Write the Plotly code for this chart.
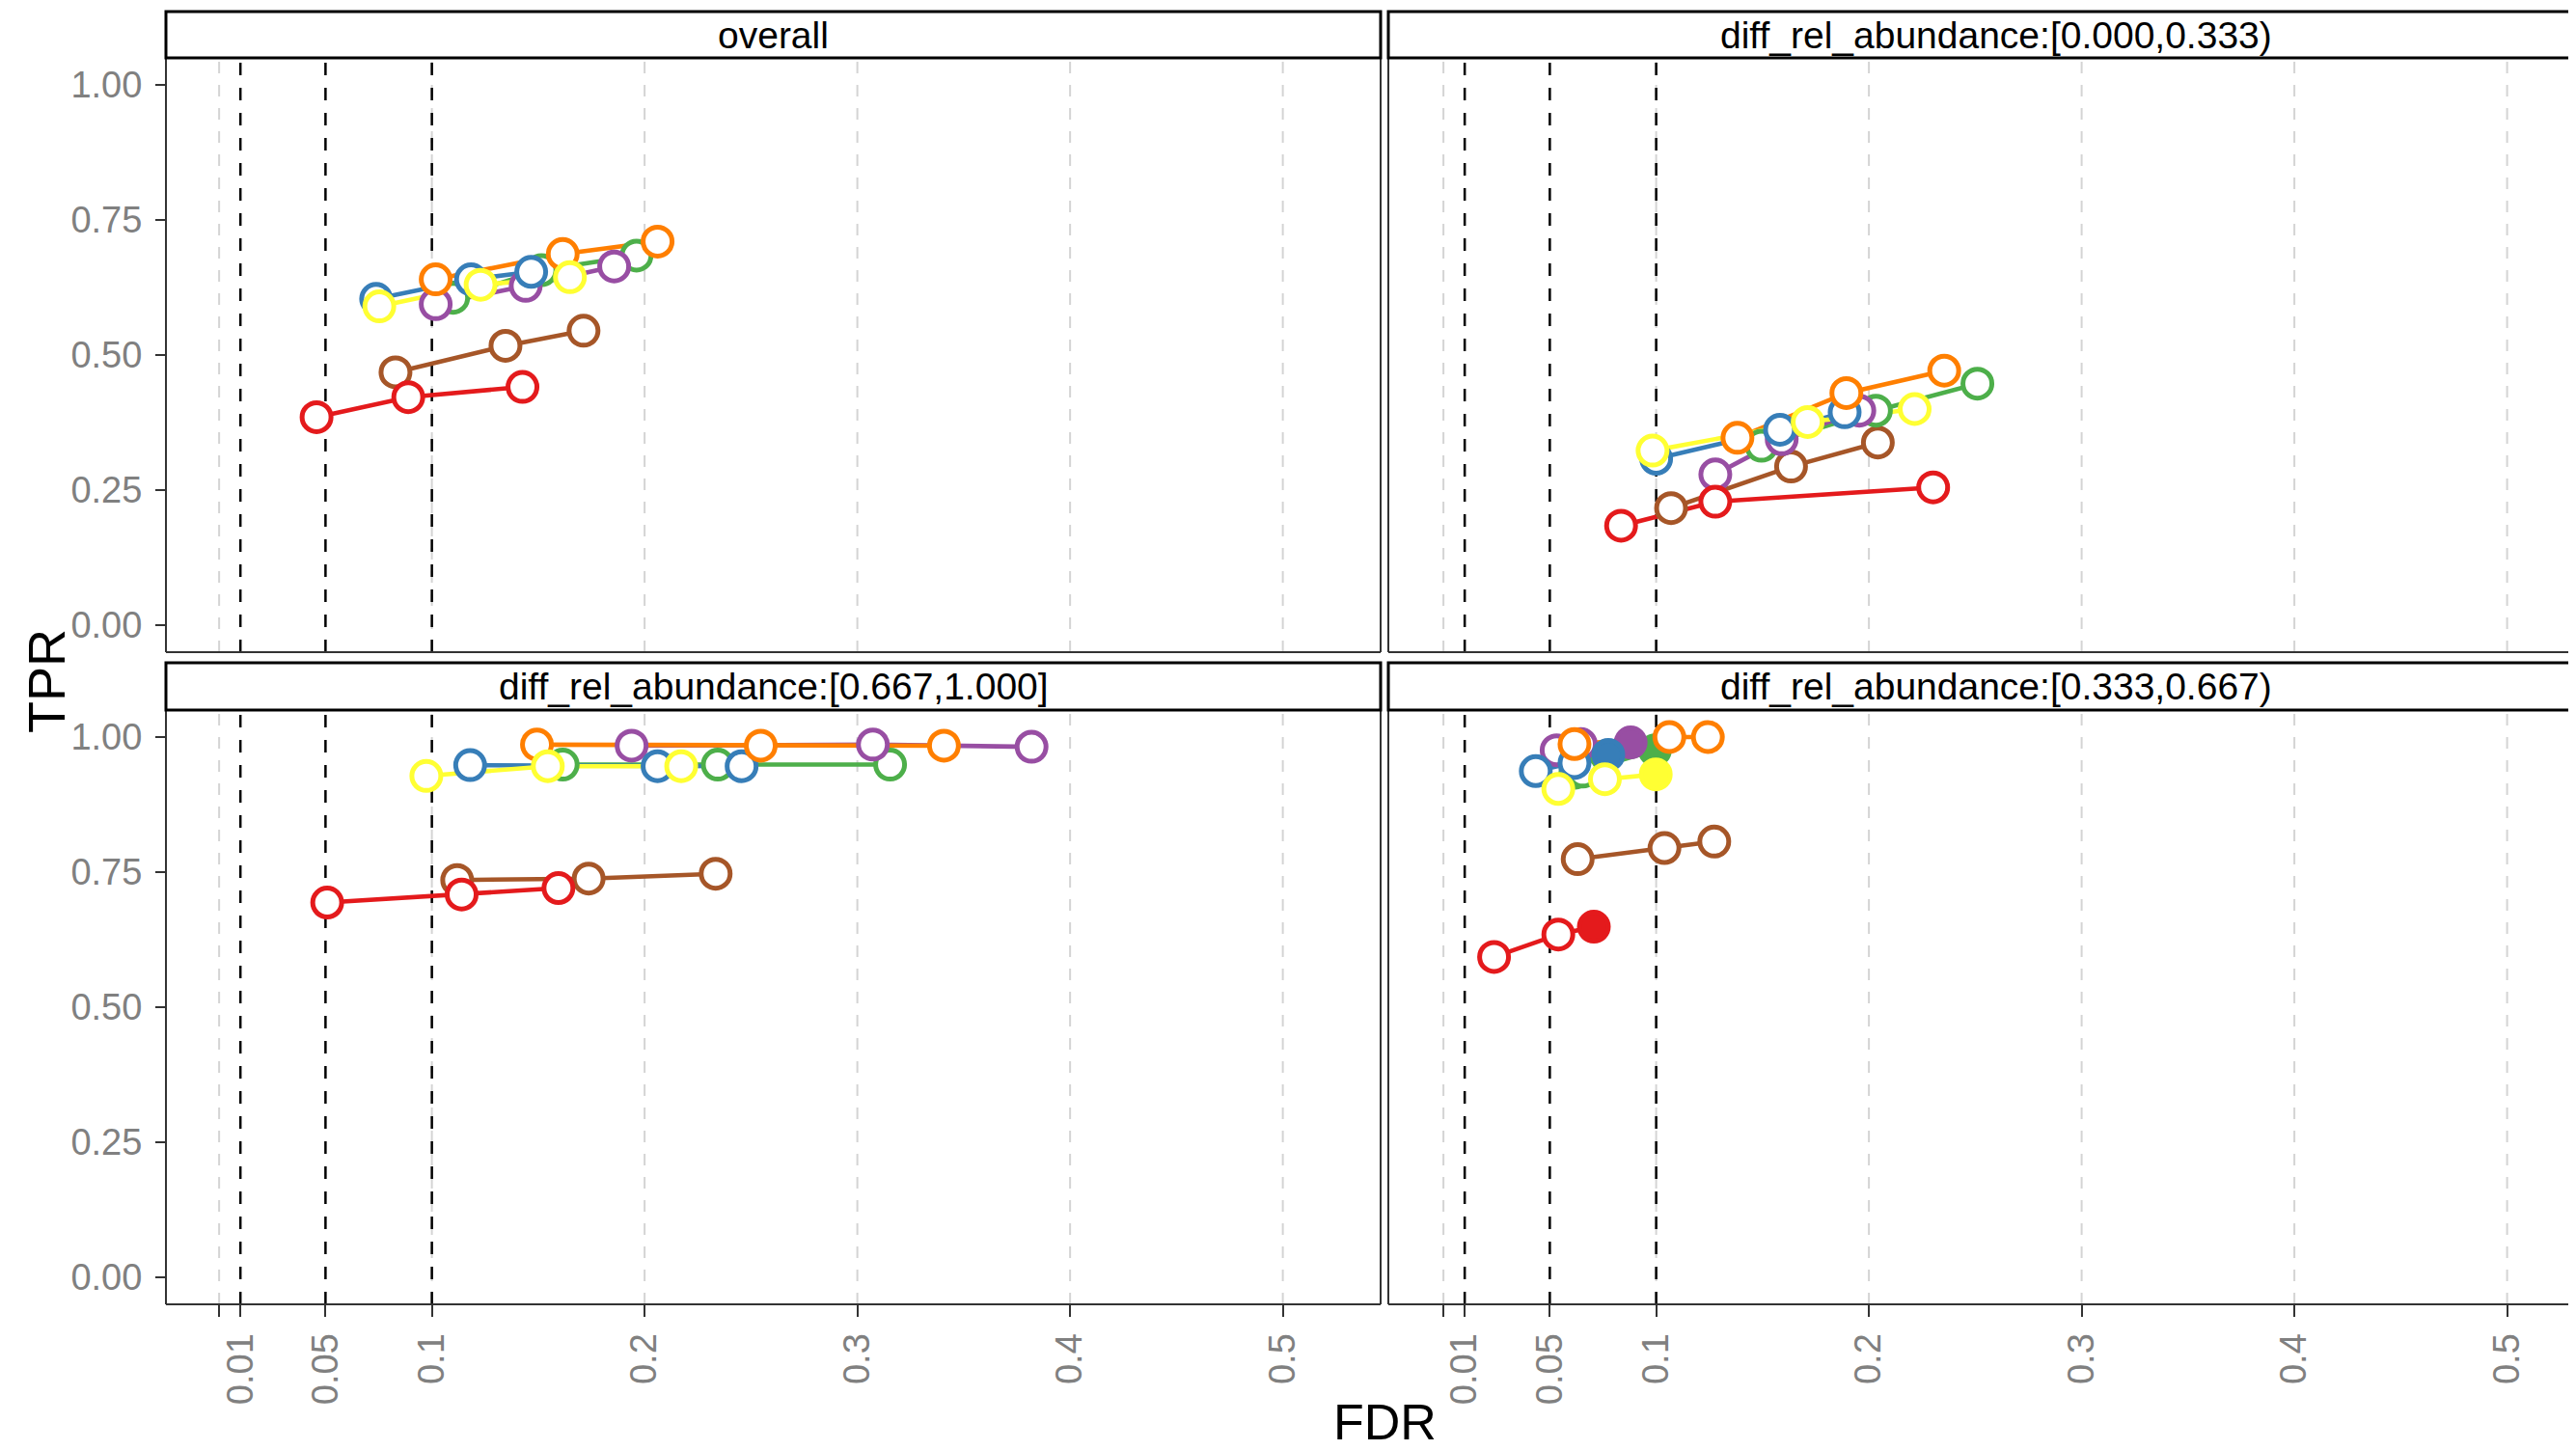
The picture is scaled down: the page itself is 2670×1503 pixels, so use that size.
import plotly.graph_objects as go

# ---------------- data (FDR, TPR) ----------------
METHODS = ["brown", "green", "purple", "blue", "orange", "yellow", "red"]
COLORS = {
    "red": "#E41A1C", "blue": "#377EB8", "green": "#4DAF4A", "purple": "#984EA3",
    "orange": "#FF7F00", "yellow": "#FFFF33", "brown": "#A65628",
}
THRESHOLDS = [0.01, 0.05, 0.1]

OVERALL_FDR = {
    "red": [0.0458, 0.0889, 0.1426], "brown": [0.0829, 0.1346, 0.1713],
    "blue": [0.0738, 0.1184, 0.1467], "green": [0.110, 0.1515, 0.1962],
    "purple": [0.1018, 0.1441, 0.1857], "orange": [0.1018, 0.1615, 0.2061],
    "yellow": [0.0753, 0.1229, 0.1649],
}
OVERALL_TPR = {
    "red": [0.385, 0.422, 0.441], "brown": [0.468, 0.517, 0.545],
    "blue": [0.604, 0.640, 0.654], "green": [0.606, 0.657, 0.684],
    "purple": [0.594, 0.628, 0.664], "orange": [0.640, 0.687, 0.710],
    "yellow": [0.590, 0.630, 0.644],
}

LOW_FDR = {
    "red": [0.0835, 0.1278, 0.2302], "brown": [0.107, 0.1634, 0.2042],
    "blue": [0.100, 0.1582, 0.1886], "green": [0.1495, 0.2033, 0.251],
    "purple": [0.1278, 0.159, 0.1955], "orange": [0.1382, 0.1894, 0.2354],
    "yellow": [0.0983, 0.1712, 0.2215],
}
LOW_TPR = {
    "red": [0.184, 0.2285, 0.255], "brown": [0.2167, 0.2936, 0.338],
    "blue": [0.308, 0.3616, 0.394], "green": [0.332, 0.397, 0.447],
    "purple": [0.279, 0.344, 0.397], "orange": [0.3468, 0.4296, 0.471],
    "yellow": [0.323, 0.376, 0.400],
}

HIGH_FDR = {
    "red": [0.0508, 0.114, 0.1595], "brown": [0.1119, 0.1737, 0.2334],
    "blue": [0.118, 0.2061, 0.2456], "green": [0.1615, 0.2344, 0.3154],
    "purple": [0.1939, 0.3073, 0.3819], "orange": [0.1494, 0.2546, 0.3407],
    "yellow": [0.0974, 0.1545, 0.2172],
}
HIGH_TPR = {
    "red": [0.6937, 0.7087, 0.7205], "brown": [0.7354, 0.738, 0.747],
    "blue": [0.948, 0.946, 0.946], "green": [0.949, 0.949, 0.949],
    "purple": [0.984, 0.986, 0.982], "orange": [0.986, 0.984, 0.984],
    "yellow": [0.928, 0.946, 0.946],
}

MID_FDR = {
    "red": [0.0238, 0.054, 0.0707], "brown": [0.0631, 0.1039, 0.1273],
    "blue": [0.0434, 0.0616, 0.0775], "green": [0.062, 0.0655, 0.0994],
    "purple": [0.0532, 0.0646, 0.088], "orange": [0.0616, 0.1062, 0.1243],
    "yellow": [0.054, 0.0759, 0.0998],
}
MID_TPR = {
    "red": [0.593, 0.6345, 0.649], "brown": [0.774, 0.7946, 0.8066],
    "blue": [0.937, 0.952, 0.967], "green": [0.934, 0.936, 0.9756],
    "purple": [0.9756, 0.987, 0.990], "orange": [0.987, 1.0, 1.0],
    "yellow": [0.904, 0.922, 0.931],
}

PANEL_TITLES = [
    "overall",
    "diff_rel_abundance:[0.000,0.333)",
    "diff_rel_abundance:[0.667,1.000]",
    "diff_rel_abundance:[0.333,0.667)",
]
X_TICKVALS = [0, 0.01, 0.05, 0.1, 0.2, 0.3, 0.4, 0.5]
X_TICKTEXT = ["", "0.01", "0.05", "0.1", "0.2", "0.3", "0.4", "0.5"]
GRID_X = [0, 0.1, 0.2, 0.3, 0.4, 0.5]
Y_TICKVALS = [0, 0.25, 0.5, 0.75, 1.0]
Y_TICKTEXT = ["0.00", "0.25", "0.50", "0.75", "1.00"]

# ---------------- layout geometry (screen pixels) ----------------
W, H = 2670, 1503
OFF = 8  # page body margin: figure is drawn 8px right/down on screen
PX_PER_UNIT = 2205.0
FONT = "Liberation Sans"


def fx(p):
    return (p - OFF) / W


def fy(p):
    return 1 - (p - OFF) / H


SCREEN_RIGHT = W  # visible right edge on screen
# (title, fdr, tpr, left, right, strip_top, top, bottom, is_left, is_bottom)
PANELS = [
    (PANEL_TITLES[0], OVERALL_FDR, OVERALL_TPR, 172, 1431, 12, 60, 676, True, False),
    (PANEL_TITLES[1], LOW_FDR, LOW_TPR, 1439, SCREEN_RIGHT + OFF, 12, 60, 676, False, False),
    (PANEL_TITLES[2], HIGH_FDR, HIGH_TPR, 172, 1431, 687, 736, 1352, True, True),
    (PANEL_TITLES[3], MID_FDR, MID_TPR, 1439, SCREEN_RIGHT + OFF, 687, 736, 1352, False, True),
]
FULL_RIGHT_PANEL_RIGHT = 2698  # uncropped right edge of right-hand panels

fig = go.Figure()
shapes = []
annotations = []
layout_axes = {}

for i, (title, fdr, tpr, left, right, stop, top, bottom, is_left, is_bottom) in enumerate(PANELS):
    n = "" if i == 0 else str(i + 1)
    xa, ya = "x" + n, "y" + n
    xmin = -0.025 if is_left else -0.0259
    xmax = xmin + (right - left) / PX_PER_UNIT
    layout_axes["xaxis" + n] = dict(
        domain=[fx(left), min(1.0, fx(right))], anchor=ya, range=[xmin, xmax],
        showgrid=False, zeroline=False, showline=False,
        tickmode="array", tickvals=X_TICKVALS, ticktext=X_TICKTEXT,
        ticks="outside" if is_bottom else "", ticklen=12, tickwidth=2, tickcolor="#333333",
        showticklabels=is_bottom, tickangle=-90,
        tickfont=dict(family=FONT, size=38, color="#808080"),
        ticklabelstandoff=2,
    )
    layout_axes["yaxis" + n] = dict(
        domain=[fy(bottom), fy(top)], anchor=xa, range=[-0.05, 1.05],
        showgrid=False, zeroline=False, showline=False,
        tickmode="array", tickvals=Y_TICKVALS, ticktext=Y_TICKTEXT,
        ticks="outside" if is_left else "", ticklen=10, tickwidth=2, tickcolor="#333333",
        showticklabels=is_left,
        tickfont=dict(family=FONT, size=38, color="#808080"),
        ticklabelstandoff=6,
    )
    # grid lines (light grey dashed)
    for gx in GRID_X:
        shapes.append(dict(type="line", xref=xa, yref=ya + " domain", x0=gx, x1=gx, y0=0, y1=1,
                           line=dict(color="#D4D4D4", width=2, dash="12px,12px"), layer="below"))
    # FDR thresholds (black dashed)
    for tx in THRESHOLDS:
        shapes.append(dict(type="line", xref=xa, yref=ya + " domain", x0=tx, x1=tx, y0=0, y1=1,
                           line=dict(color="#000000", width=2.5, dash="13px,13px"), layer="below"))
    # panel border
    border = dict(color="#333333", width=2)
    x_end = fx(right) if is_left else fx(W + 40)
    shapes.append(dict(type="line", xref="paper", yref="paper", x0=fx(left), x1=fx(left),
                       y0=fy(top), y1=fy(bottom), line=border, layer="above"))
    shapes.append(dict(type="line", xref="paper", yref="paper", x0=fx(left), x1=x_end,
                       y0=fy(bottom), y1=fy(bottom), line=border, layer="above"))
    if is_left:
        shapes.append(dict(type="line", xref="paper", yref="paper", x0=fx(right), x1=fx(right),
                           y0=fy(top), y1=fy(bottom), line=border, layer="above"))
    # strip
    shapes.append(dict(type="rect", xref="paper", yref="paper", x0=fx(left), x1=x_end,
                       y0=fy(top), y1=fy(stop), fillcolor="white",
                       line=dict(color="#000000", width=3), layer="above"))
    strip_center = (left + right) / 2 if is_left else (left + FULL_RIGHT_PANEL_RIGHT) / 2
    annotations.append(dict(text=title, xref="paper", yref="paper", x=fx(strip_center),
                            y=fy((stop + top) / 2), xanchor="center", yanchor="middle",
                            showarrow=False, font=dict(family=FONT, size=39, color="#000000")))

# lines first (ggplot draws all paths below all points)
for i, (title, fdr, tpr, *_rest) in enumerate(PANELS):
    n = "" if i == 0 else str(i + 1)
    for m in METHODS:
        fig.add_trace(go.Scatter(x=fdr[m], y=tpr[m], mode="lines", xaxis="x" + n, yaxis="y" + n,
                                 line=dict(color=COLORS[m], width=4.6), showlegend=False,
                                 hoverinfo="skip"))

for i, (title, fdr, tpr, *_rest) in enumerate(PANELS):
    n = "" if i == 0 else str(i + 1)
    for m in METHODS:
        fills = [COLORS[m] if f <= t else "white" for f, t in zip(fdr[m], THRESHOLDS)]
        fig.add_trace(go.Scatter(x=fdr[m], y=tpr[m], mode="markers", xaxis="x" + n, yaxis="y" + n,
                                 marker=dict(size=30, color=fills, symbol="circle",
                                             line=dict(color=COLORS[m], width=5)),
                                 showlegend=False, name=m))

annotations.append(dict(text="TPR", xref="paper", yref="paper", x=fx(48), y=fy(706),
                        xanchor="center", yanchor="middle", textangle=-90, showarrow=False,
                        font=dict(family=FONT, size=54, color="#000000")))
annotations.append(dict(text="FDR", xref="paper", yref="paper", x=fx(1435), y=fy(1474),
                        xanchor="center", yanchor="middle", showarrow=False,
                        font=dict(family=FONT, size=52, color="#000000")))

fig.update_layout(
    width=W, height=H, margin=dict(l=0, r=0, t=0, b=0),
    paper_bgcolor="white", plot_bgcolor="white",
    showlegend=False, shapes=shapes, annotations=annotations,
    font=dict(family=FONT),
    **layout_axes,
)

fig.write_html("out.html", config={"displayModeBar": False})
